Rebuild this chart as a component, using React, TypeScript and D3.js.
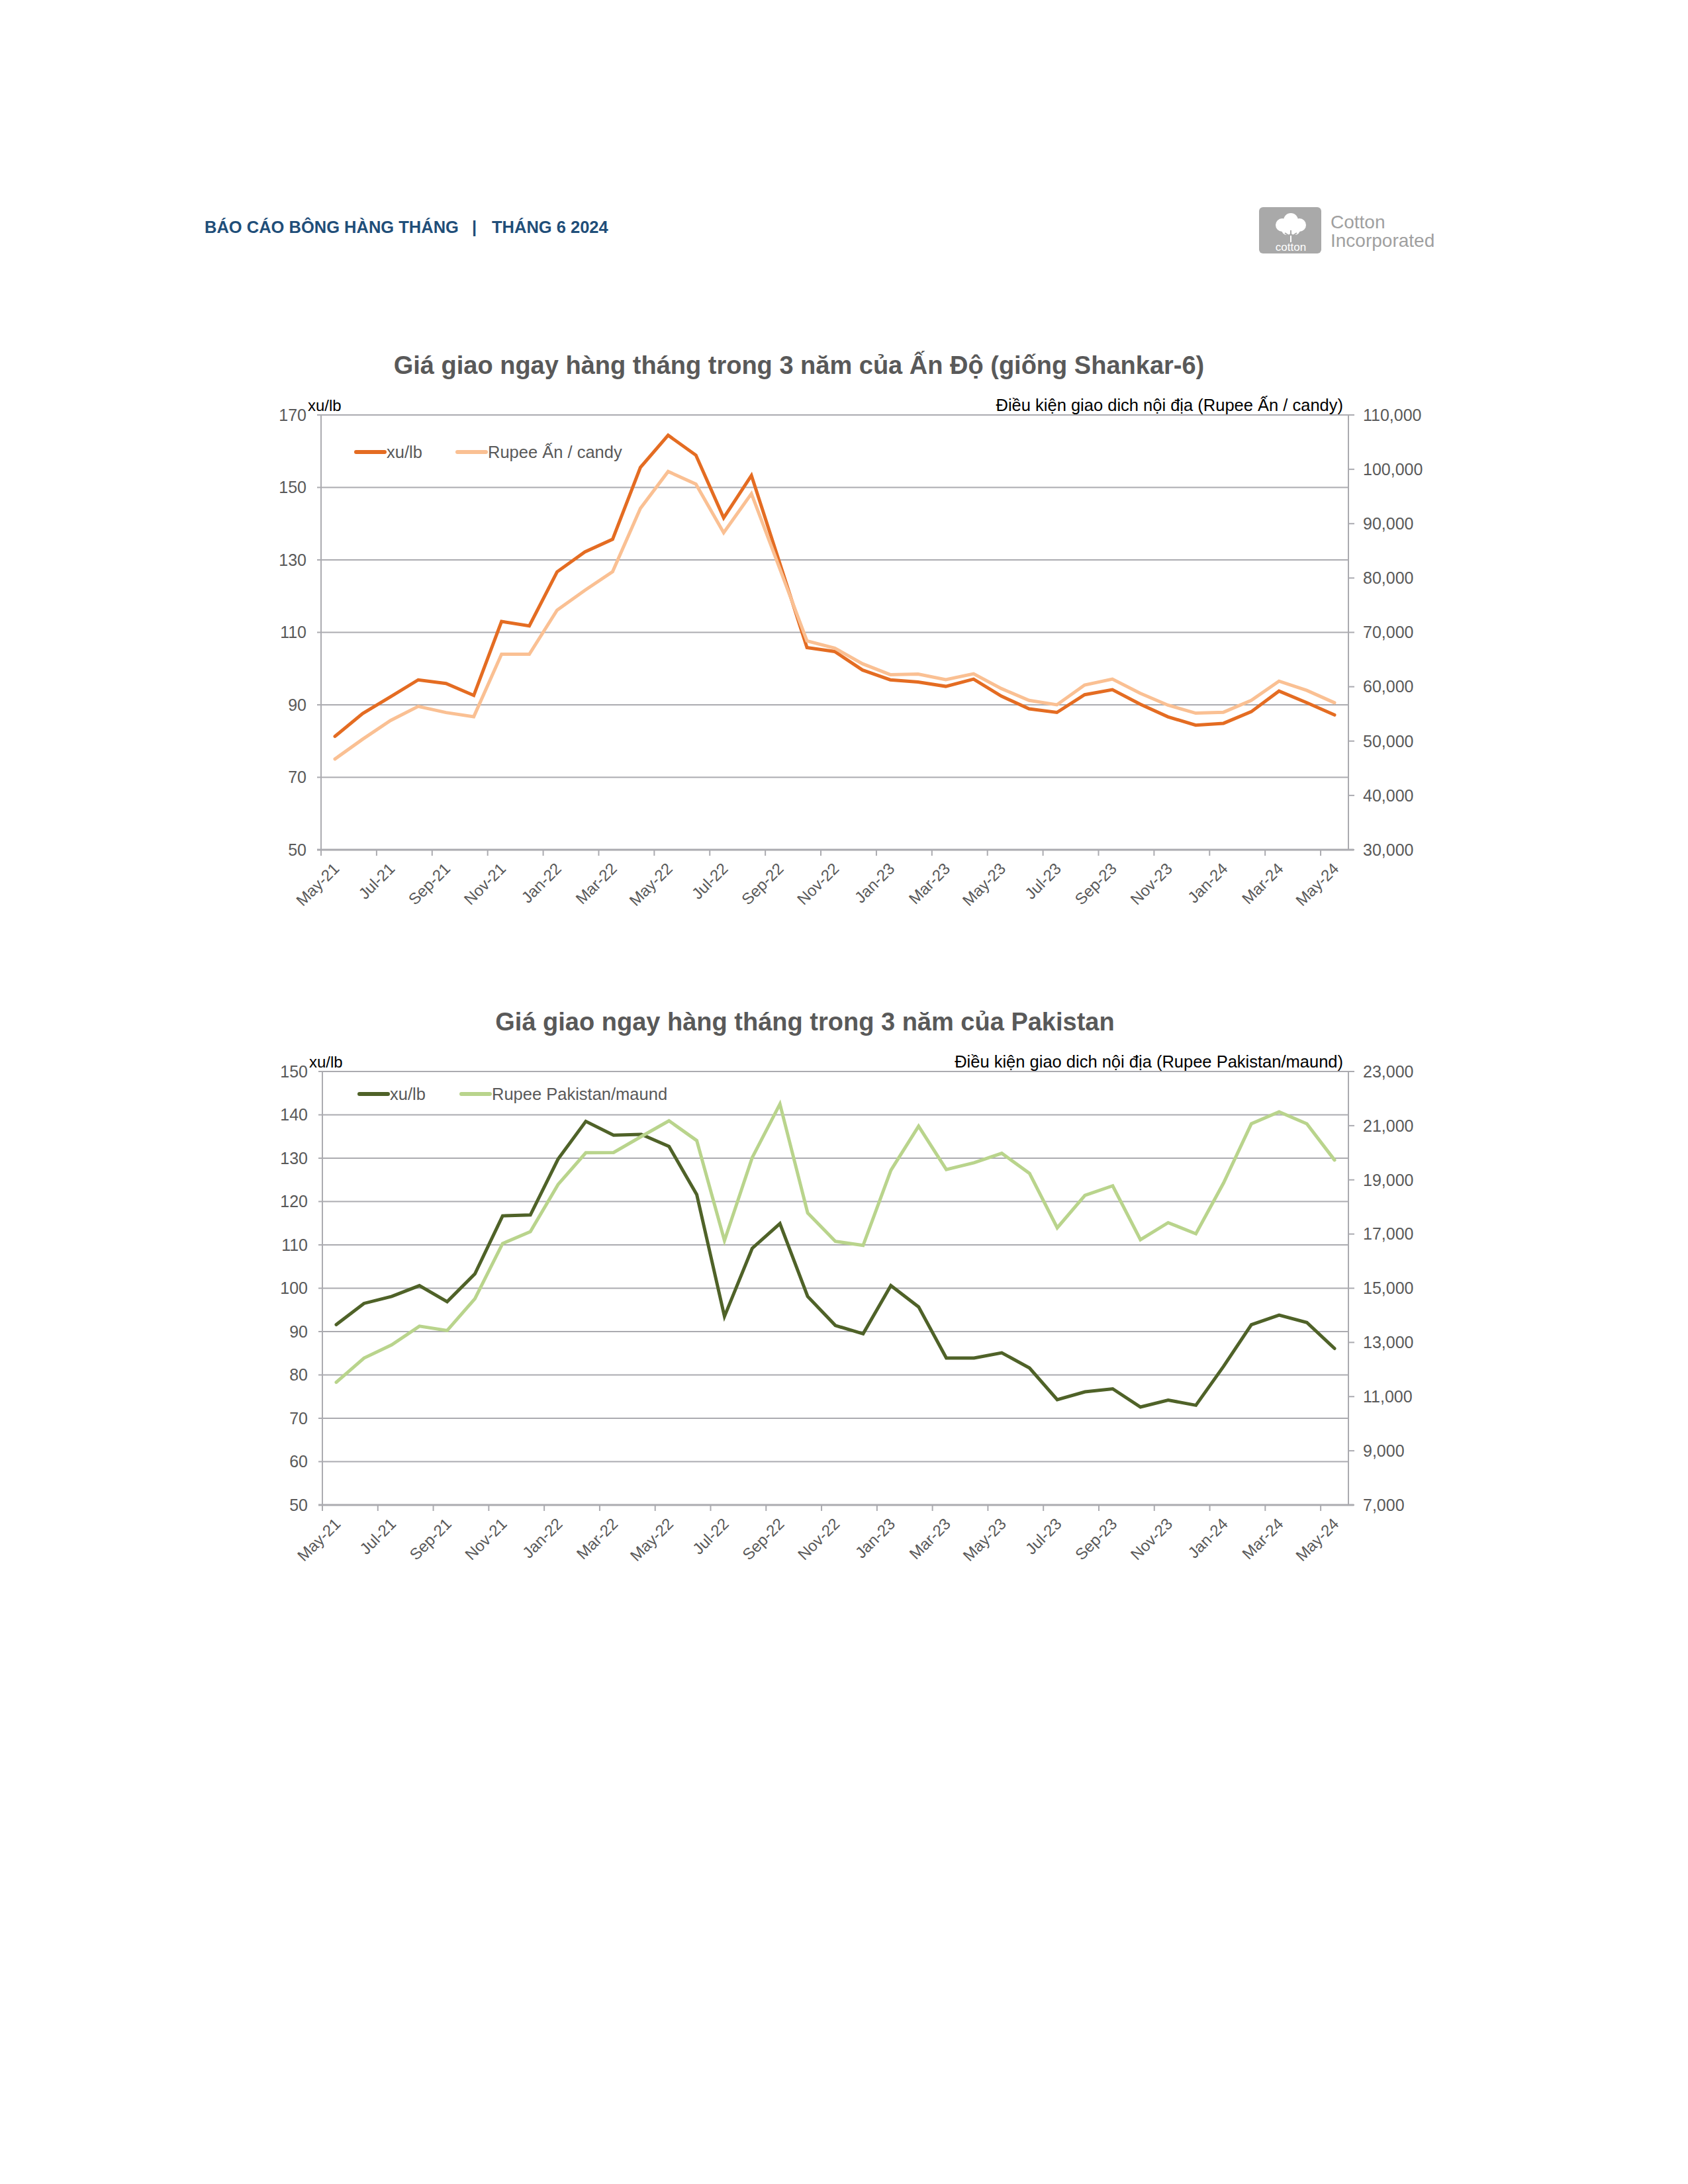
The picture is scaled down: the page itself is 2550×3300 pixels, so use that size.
import React from 'react';
import * as d3 from 'd3';

const months = [
  'May-21','Jun-21','Jul-21','Aug-21','Sep-21','Oct-21','Nov-21','Dec-21',
  'Jan-22','Feb-22','Mar-22','Apr-22','May-22','Jun-22','Jul-22','Aug-22','Sep-22','Oct-22','Nov-22','Dec-22',
  'Jan-23','Feb-23','Mar-23','Apr-23','May-23','Jun-23','Jul-23','Aug-23','Sep-23','Oct-23','Nov-23','Dec-23',
  'Jan-24','Feb-24','Mar-24','Apr-24','May-24'
];

const indiaCents = [81.3, 87.6, 92.2, 96.9, 95.9, 92.6, 113.0, 111.8, 126.7, 132.2, 135.7, 155.5, 164.4, 158.9, 141.6, 153.3, 129.6, 105.8, 104.7, 99.6, 96.9, 96.3, 95.1, 97.1, 92.4, 88.9, 87.9, 92.8, 94.2, 90.2, 86.7, 84.4, 84.9, 88.1, 93.8, 90.6, 87.2];
const indiaRupee = [46700, 50350, 53780, 56390, 55250, 54490, 65970, 65970, 74080, 77730, 81160, 92800, 99600, 97270, 88340, 95520, 82000, 68420, 67110, 64230, 62220, 62330, 61290, 62380, 59660, 57480, 56670, 60310, 61400, 58790, 56610, 55140, 55310, 57480, 61020, 59330, 57050];

const pakCents = [91.6, 96.5, 98.1, 100.6, 96.9, 103.3, 116.7, 116.9, 129.8, 138.5, 135.3, 135.5, 132.7, 121.6, 93.5, 109.2, 114.9, 98.1, 91.4, 89.5, 100.6, 95.7, 83.9, 83.9, 85.1, 81.6, 74.3, 76.1, 76.8, 72.6, 74.2, 73.0, 82.0, 91.6, 93.8, 92.1, 86.1];
const pakRupee = [11530, 12420, 12910, 13600, 13440, 14610, 16650, 17090, 18830, 20000, 20010, 20600, 21180, 20450, 16760, 19820, 21800, 17780, 16730, 16580, 19350, 20980, 19380, 19630, 19980, 19240, 17230, 18430, 18780, 16790, 17420, 17010, 18890, 21070, 21510, 21070, 19730];

const indiaLeftTicks = [50, 70, 90, 110, 130, 150, 170];
const indiaRightTicks = [30000, 40000, 50000, 60000, 70000, 80000, 90000, 100000, 110000];
const pakLeftTicks = [50, 60, 70, 80, 90, 100, 110, 120, 130, 140, 150];
const pakRightTicks = [7000, 9000, 11000, 13000, 15000, 17000, 19000, 21000, 23000];

const FONT = "'Liberation Sans', Arial, sans-serif";
const GRID = '#ABABB0';
const LABEL = '#595959';

type ChartProps = {
  x0: number; x1: number; y0: number; y1: number;
  leftDomain: [number, number]; rightDomain: [number, number];
  leftTicks: number[]; rightTicks: number[];
  leftVals: number[]; rightVals: number[];
  darkColor: string; lightColor: string;
  title: string; titleX: number; titleY: number;
  rightUnit: string; legendDark: string; legendLight: string;
  legendY: number; legendX: number; legendX2: number;
};

function DualChart(p: ChartProps) {
  const x = d3.scaleBand<string>().domain(months).range([p.x0, p.x1]).paddingInner(0).paddingOuter(0);
  const yL = d3.scaleLinear().domain(p.leftDomain).range([p.y1, p.y0]);
  const yR = d3.scaleLinear().domain(p.rightDomain).range([p.y1, p.y0]);
  const bw = x.bandwidth();
  const cx = (i: number) => (x(months[i]) as number) + bw / 2;
  const lineL = d3.line<number>().x((_, i) => cx(i)).y(d => yL(d));
  const lineR = d3.line<number>().x((_, i) => cx(i)).y(d => yR(d));
  const fmt = d3.format(',');
  const labelIdx = months.map((_, i) => i).filter(i => i % 2 === 0);
  return (
    <g>
      <text x={p.titleX} y={p.titleY} textAnchor="middle" fontFamily={FONT} fontWeight="bold" fontSize={38} fill={LABEL}>{p.title}</text>
      {p.leftTicks.map(t => (
        <line key={'g' + t} x1={p.x0 - 6} x2={p.x1} y1={yL(t)} y2={yL(t)} stroke={GRID} strokeWidth={2} />
      ))}
      <line x1={p.x0} x2={p.x0} y1={p.y0} y2={p.y1} stroke={GRID} strokeWidth={2} />
      <line x1={p.x1} x2={p.x1} y1={p.y0} y2={p.y1} stroke={GRID} strokeWidth={2} />
      <line x1={p.x0 - 6} x2={p.x1 + 8} y1={p.y1} y2={p.y1} stroke={GRID} strokeWidth={3} />
      {labelIdx.map(i => (
        <line key={'xt' + i} x1={x(months[i]) as number} x2={x(months[i]) as number} y1={p.y1} y2={p.y1 + 9} stroke={GRID} strokeWidth={2} />
      ))}
      {p.rightTicks.map(t => (
        <line key={'rt' + t} x1={p.x1} x2={p.x1 + 9} y1={yR(t)} y2={yR(t)} stroke={GRID} strokeWidth={2} />
      ))}
      {p.leftTicks.map(t => (
        <text key={'lt' + t} x={p.x0 - 22} y={yL(t)} dy="0.35em" textAnchor="end" fontFamily={FONT} fontSize={25} fill={LABEL}>{t}</text>
      ))}
      {p.rightTicks.map(t => (
        <text key={'rl' + t} x={p.x1 + 22} y={yR(t)} dy="0.35em" textAnchor="start" fontFamily={FONT} fontSize={25} fill={LABEL}>{fmt(t)}</text>
      ))}
      {labelIdx.map(i => {
        const ax = cx(i) + 8;
        const ay = p.y1 + 30;
        return (
          <text key={'xl' + i} x={ax} y={ay} textAnchor="end" transform={`rotate(-45 ${ax} ${ay})`} fontFamily={FONT} fontSize={24} fill={LABEL}>{months[i]}</text>
        );
      })}
      <text x={p.x0 - 20} y={p.y0 - 6} fontFamily={FONT} fontSize={24} fill="#000">xu/lb</text>
      <text x={p.x1 - 8} y={p.y0 - 6} textAnchor="end" fontFamily={FONT} fontSize={25.5} fill="#000">{p.rightUnit}</text>
      <path d={lineL(p.leftVals) as string} fill="none" stroke={p.darkColor} strokeWidth={5} strokeLinejoin="miter" strokeLinecap="round" />
      <path d={lineR(p.rightVals) as string} fill="none" stroke={p.lightColor} strokeWidth={5} strokeLinejoin="miter" strokeLinecap="round" />
      <line x1={p.legendX} x2={p.legendX + 43} y1={p.legendY} y2={p.legendY} stroke={p.darkColor} strokeWidth={6} strokeLinecap="round" />
      <text x={p.legendX + 46} y={p.legendY} dy="0.35em" fontFamily={FONT} fontSize={25.5} fill={LABEL}>{p.legendDark}</text>
      <line x1={p.legendX2} x2={p.legendX2 + 43} y1={p.legendY} y2={p.legendY} stroke={p.lightColor} strokeWidth={6} strokeLinecap="round" />
      <text x={p.legendX2 + 46} y={p.legendY} dy="0.35em" fontFamily={FONT} fontSize={25.5} fill={LABEL}>{p.legendLight}</text>
    </g>
  );
}

function Logo() {
  return (
    <g>
      <rect x={1902} y={313} width={94} height={70} rx={6} fill="#A9A9A9" />
      <circle cx={1950} cy={333} r={11} fill="#fff" />
      <circle cx={1937} cy={340} r={10} fill="#fff" />
      <circle cx={1963} cy={340} r={10} fill="#fff" />
      <circle cx={1944} cy={347} r={8} fill="#fff" />
      <circle cx={1956} cy={347} r={8} fill="#fff" />
      <path d="M1950 348 L1950 364 M1950 358 L1941 352 M1950 358 L1959 352" stroke="#A9A9A9" strokeWidth={2} fill="none" />
      <path d="M1950 356 L1950 366" stroke="#fff" strokeWidth={2} fill="none" />
      <text x={1950} y={379} textAnchor="middle" fontFamily={FONT} fontSize={17} fill="#fff">cotton</text>
      <text x={2010} y={345} fontFamily={FONT} fontSize={28} fill="#A0A0A0">Cotton</text>
      <text x={2010} y={373} fontFamily={FONT} fontSize={28} fill="#A0A0A0">Incorporated</text>
    </g>
  );
}

export default function App() {
  return (
    <svg width={2550} height={3300} viewBox="0 0 2550 3300" style={{ position: 'absolute', left: 0, top: 0, background: '#fff' }}>
      <rect x={0} y={0} width={2550} height={3300} fill="#fff" />
      <g fontFamily={FONT} fontWeight="bold" fontSize={25.5} fill="#1F4E79">
        <text x={309} y={352}>BÁO CÁO BÔNG HÀNG THÁNG</text>
        <text x={713} y={352}>|</text>
        <text x={743} y={352}>THÁNG 6 2024</text>
      </g>
      <Logo />
      <DualChart
        x0={485} x1={2037} y0={627} y1={1284}
        leftDomain={[50, 170]} rightDomain={[30000, 110000]}
        leftTicks={indiaLeftTicks} rightTicks={indiaRightTicks}
        leftVals={indiaCents} rightVals={indiaRupee}
        darkColor="#E46C22" lightColor="#FAC093"
        title="Giá giao ngay hàng tháng trong 3 năm của Ấn Độ (giống Shankar-6)" titleX={1207} titleY={565}
        rightUnit="Điều kiện giao dich nội địa (Rupee Ấn / candy)"
        legendDark="xu/lb" legendLight="Rupee Ấn / candy"
        legendY={683} legendX={538} legendX2={691}
      />
      <DualChart
        x0={487} x1={2037} y0={1619} y1={2274}
        leftDomain={[50, 150]} rightDomain={[7000, 23000]}
        leftTicks={pakLeftTicks} rightTicks={pakRightTicks}
        leftVals={pakCents} rightVals={pakRupee}
        darkColor="#4F6228" lightColor="#B9D48C"
        title="Giá giao ngay hàng tháng trong 3 năm của Pakistan" titleX={1216} titleY={1557}
        rightUnit="Điều kiện giao dich nội địa (Rupee Pakistan/maund)"
        legendDark="xu/lb" legendLight="Rupee Pakistan/maund"
        legendY={1653} legendX={543} legendX2={697}
      />
    </svg>
  );
}
